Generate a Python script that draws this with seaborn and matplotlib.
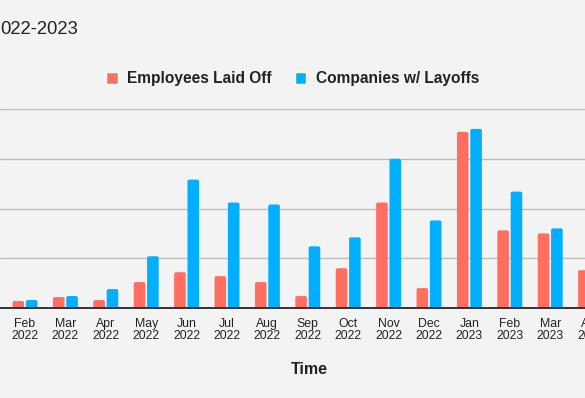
import pandas as pd
import matplotlib
matplotlib.use("Agg")
import matplotlib.pyplot as plt
from matplotlib.patches import FancyBboxPatch
import seaborn as sns

# === Data (one gridline = 50 units) ===
months = ["Feb\n2022", "Mar\n2022", "Apr\n2022", "May\n2022", "Jun\n2022",
          "Jul\n2022", "Aug\n2022", "Sep\n2022", "Oct\n2022", "Nov\n2022",
          "Dec\n2022", "Jan\n2023", "Feb\n2023", "Mar\n2023", "Apr\n2023"]
employees_laid_off = [7, 11, 8, 26, 36, 32, 26, 12, 40, 106, 20, 177, 78, 75, 38]
companies_w_layoffs = [8, 12, 19, 52, 129, 106, 104, 62, 71, 150, 88, 180, 117, 80, 60]
series_names = ["Employees Laid Off", "Companies w/ Layoffs"]
y_ticks = [0, 50, 100, 150, 200]

df = pd.DataFrame({
    "month": months * 2,
    "value": employees_laid_off + companies_w_layoffs,
    "series": [series_names[0]] * len(months) + [series_names[1]] * len(months),
})

# === Style ===
sns.set_theme(style="white")
plt.rcParams["font.family"] = ["Liberation Sans", "DejaVu Sans"]
bg = "#f3f3f3"
colors = {"Employees Laid Off": "#ff6f61", "Companies w/ Layoffs": "#00b0ff"}

W, H = 585, 398
step = 40.4          # px per month
x0_px = 25           # px of first month
x_right = 14.6
ax_w_px = x0_px + step * x_right

fig = plt.figure(figsize=(W / 100, H / 100), dpi=100, facecolor=bg)
# axes runs past the right figure edge on purpose (cropped chart)
ax = fig.add_axes([0, 90 / H, ax_w_px / W, 199 / H])
ax.set_facecolor(bg)

sns.barplot(data=df, x="month", y="value", hue="series", palette=colors,
            width=0.66, gap=0.13, saturation=1, ax=ax, zorder=3)

# swap plain bars for ones with slightly rounded corners (bottom hidden below 0)
for p in list(ax.patches):
    x, w, h = p.get_x(), p.get_width(), p.get_height()
    if w <= 0 or h <= 0:
        continue
    rb = FancyBboxPatch((x, -3), w, h + 3,
                        boxstyle="round,pad=0,rounding_size=0.045",
                        mutation_aspect=40, facecolor=p.get_facecolor(),
                        edgecolor="none", zorder=3)
    p.set_visible(False)
    ax.add_patch(rb)

ax.set_xlim(-x0_px / step, x_right)
ax.set_ylim(0, 200)
ax.set_yticks(y_ticks)
ax.yaxis.grid(True, color="#bdbdbd", linewidth=1, zorder=0)
ax.set_axisbelow(True)
for side in ["top", "left", "right"]:
    ax.spines[side].set_visible(False)
ax.spines["bottom"].set_color("#333333")
ax.spines["bottom"].set_linewidth(1.4)
ax.spines["bottom"].set_zorder(4)
ax.tick_params(axis="y", left=False, labelleft=False)
ax.tick_params(axis="x", bottom=False, pad=1.5, labelsize=8.8, labelcolor="#222222")
for lbl in ax.get_xticklabels():
    lbl.set_linespacing(1.0)

ax.set_ylabel("")
ax.set_xlabel("Time", fontsize=11.5, fontweight="bold", color="#222222")
ax.xaxis.set_label_coords(309 / ax_w_px, -(369 - 308) / 199)
ax.xaxis.label.set_va("center")

ax.get_legend().remove()
handles, labels = ax.get_legend_handles_labels()
fig.legend(handles, labels, loc="center", bbox_to_anchor=(0.50, 1 - 79 / H),
           ncol=2, frameon=False, handlelength=0.75, handleheight=0.75,
           handletextpad=0.6, columnspacing=1.5,
           prop={"size": 11.2, "weight": "bold"}, labelcolor="#222222")

fig.text(0.0, 1 - 30 / H, "022-2023", fontsize=13.3, color="#222222",
         ha="left", va="center")

fig.savefig("out.png", dpi=100, facecolor=bg)
